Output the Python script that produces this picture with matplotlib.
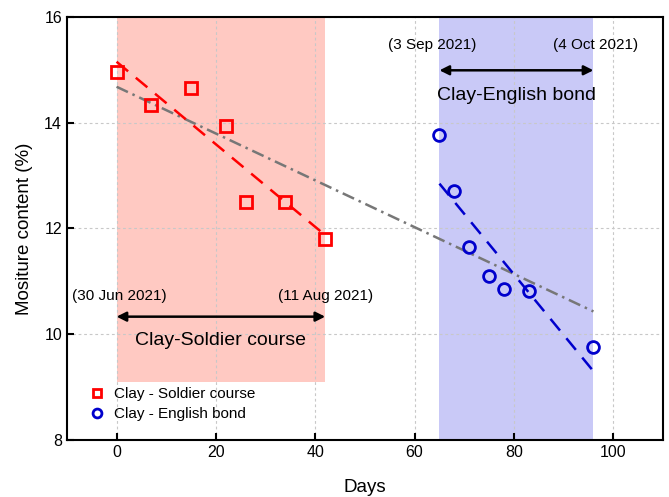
import numpy as np
import matplotlib
matplotlib.use("Agg")
import matplotlib.pyplot as plt

plt.rcParams['font.family'] = ['Liberation Sans', 'DejaVu Sans']

# Data
soldier_days = [0, 7, 15, 22, 26, 34, 42]
soldier_mc = [14.95, 14.33, 14.65, 13.93, 12.5, 12.5, 11.8]
english_days = [65, 68, 71, 75, 78, 83, 96]
english_mc = [13.76, 12.7, 11.65, 11.1, 10.86, 10.82, 9.76]
x_ticks = [0, 20, 40, 60, 80, 100]
y_ticks = [8, 10, 12, 14, 16]

fig = plt.figure(figsize=(6.69, 4.97), dpi=100)
ax = fig.add_axes([0.100, 0.115, 0.891, 0.851])

ax.set_xlim(-10, 110)
ax.set_ylim(8, 16)

# shaded periods
ax.fill_between([0, 42], 9.1, 16, color='#FFC9C2', zorder=0, linewidth=0)
ax.axvspan(65, 96, color='#C9C9F7', zorder=0, linewidth=0)

ax.grid(True, linestyle=(0, (2.5, 2.5)), color='#C8C8C8', linewidth=0.8, zorder=0.5)
ax.set_axisbelow(True)

# fits
ps = np.polyfit(soldier_days, soldier_mc, 1)
xs = np.array([soldier_days[0], soldier_days[-1]])
ax.plot(xs, np.polyval(ps, xs), color='#FF0000', linestyle=(0, (6, 4)), linewidth=1.8, zorder=3)

pe = np.polyfit(english_days, english_mc, 1)
xe = np.array([english_days[0], english_days[-1]])
ax.plot(xe, np.polyval(pe, xe), color='#0000CC', linestyle=(0, (6, 4)), linewidth=1.8, zorder=3)

all_d = soldier_days + english_days
all_m = soldier_mc + english_mc
pa = np.polyfit(all_d, all_m, 1)
xa = np.array([min(all_d), max(all_d)])
ax.plot(xa, np.polyval(pa, xa), color='#777777', linestyle=(0, (5, 2, 1, 2)), linewidth=1.8, zorder=2)

ax.plot(soldier_days, soldier_mc, linestyle='none', marker='s', markersize=8.5,
        markerfacecolor='none', markeredgecolor='#FF0000', markeredgewidth=2.0,
        label='Clay - Soldier course', zorder=4)
ax.plot(english_days, english_mc, linestyle='none', marker='o', markersize=8.5,
        markerfacecolor='none', markeredgecolor='#0000CC', markeredgewidth=2.0,
        label='Clay - English bond', zorder=4)

# annotations
ax.text(0.5, 10.72, '(30 Jun 2021)', ha='center', va='center', fontsize=11)
ax.text(42, 10.72, '(11 Aug 2021)', ha='center', va='center', fontsize=11)
ax.annotate('', xy=(0, 10.33), xytext=(42, 10.33),
            arrowprops=dict(arrowstyle='<|-|>', color='black', lw=1.8, mutation_scale=14, shrinkA=0, shrinkB=0))
ax.text(21, 9.87, 'Clay-Soldier course', ha='center', va='center', fontsize=14)

ax.text(63.5, 15.47, '(3 Sep 2021)', ha='center', va='center', fontsize=11)
ax.text(96.5, 15.47, '(4 Oct 2021)', ha='center', va='center', fontsize=11)
ax.annotate('', xy=(65, 14.99), xytext=(96, 14.99),
            arrowprops=dict(arrowstyle='<|-|>', color='black', lw=1.8, mutation_scale=14, shrinkA=0, shrinkB=0))
ax.text(80.5, 14.52, 'Clay-English bond', ha='center', va='center', fontsize=14)

ax.set_xticks(x_ticks)
ax.set_yticks(y_ticks)
ax.tick_params(direction='in', length=5, width=1.5, labelsize=11.5)
for s in ax.spines.values():
    s.set_linewidth(1.5)

ax.set_xlabel('Days', fontsize=13.5, labelpad=14)
ax.set_ylabel('Mositure content (%)', fontsize=13.5, labelpad=8)

ax.legend(loc='lower left', bbox_to_anchor=(0.015, 0.012), frameon=False, fontsize=11,
          handletextpad=0.6, borderaxespad=0.5, labelspacing=0.4, handlelength=1.0,
          markerscale=0.75)

fig.savefig('out.png', dpi=100)
